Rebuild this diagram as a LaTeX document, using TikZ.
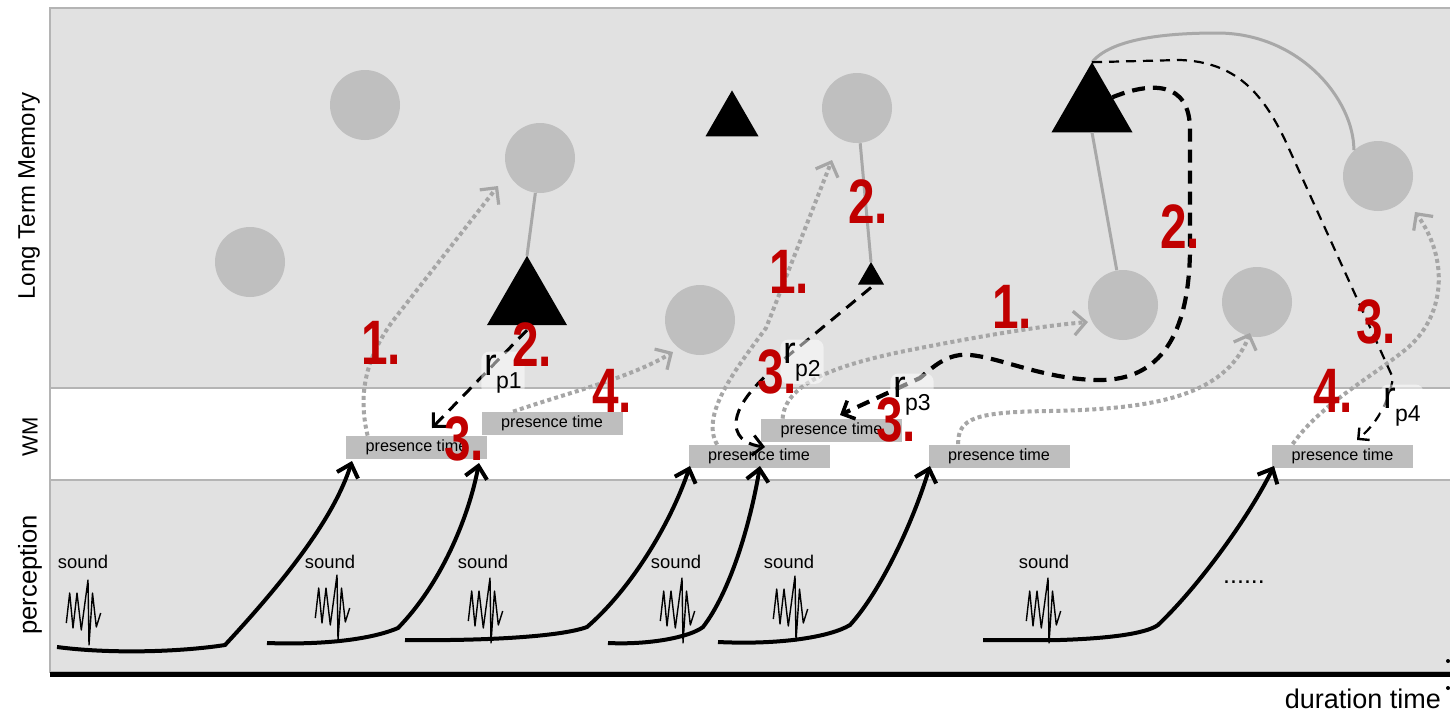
\documentclass[tikz,border=0pt]{standalone}
\usepackage{fontspec}
\usepackage{graphicx}
\setmainfont{Liberation Sans}
\usetikzlibrary{arrows.meta,shapes.geometric}
\definecolor{bgdot}{HTML}{E1E1E1}
\definecolor{circ}{HTML}{BFBFBF}
\definecolor{ptbox}{HTML}{BEBEBE}
\definecolor{lnk}{HTML}{A8A8A8}
\definecolor{dotg}{HTML}{A6A6A6}
\definecolor{rednum}{HTML}{C00000}
\definecolor{frameg}{HTML}{B4B4B4}
\newcommand\rnn[1]{\scalebox{0.76}[1]{#1}}
\newcommand\rsub[1]{r\kern-0.5pt\raisebox{-6.5pt}{\fontsize{11.5}{12}\selectfont #1}}
\begin{document}
\begin{tikzpicture}[x=0.5pt,y=-0.5pt,
  ltmc/.style={circle,fill=circ,inner sep=0,minimum size=35pt},
  tri/.style={regular polygon,regular polygon sides=3,fill=black,inner sep=0,outer sep=0},
  ptime/.style={fill=ptbox,minimum width=70.5pt,minimum height=11.5pt,inner sep=0,font=\fontsize{8.1}{8}\selectfont},
  rnum/.style={text=rednum,inner sep=0,font=\fontsize{31.4}{32}\selectfont\bfseries},
  rlab/.style={fill=white,fill opacity=0.5,text opacity=1,inner sep=1.5pt,rounded corners=4pt,anchor=base west,font=\fontsize{19}{19}\selectfont},
  snd/.style={font=\fontsize{9.2}{10}\selectfont},
  perc/.style={line width=2pt,-{Straight Barb[length=6pt,width=11pt,line width=2pt]}},
  grayarr/.style={dotg,line width=2pt,dash pattern=on 2pt off 1.6pt,-{Straight Barb[length=6pt,width=12pt,line width=1.6pt]}},
  link/.style={lnk,line width=1.5pt},
  retr/.style={line width=1.5pt,dash pattern=on 6pt off 4pt,-{Straight Barb[length=5pt,width=10pt,line width=1.5pt]}},
  retrthick/.style={line width=2.1pt,dash pattern=on 6.5pt off 4pt,-{Straight Barb[length=5pt,width=10pt,line width=1.8pt]}},
  retrthin/.style={line width=1.1pt,dash pattern=on 5pt off 3.5pt,-{Straight Barb[length=4pt,width=8pt,line width=1.2pt]}},
  wavepic/.pic={
    \draw[line width=0.7pt,line join=round] (-21.7,-22) -- (-18.3,-52) -- (-15,-17) -- (-11,-52) -- (-6.7,-15) -- (0,-65) -- (1,0) -- (4.5,-52) -- (8.3,-18) -- (12.7,-32);
  }]
\useasboundingbox (0,0) rectangle (1450,718);
\fill[white] (0,0) rectangle (1450,718);
% panels
\fill[bgdot] (50,8) rectangle (1460,388);
\fill[bgdot] (50,480) rectangle (1460,672);
\draw[frameg,line width=0.7pt] (50,8) rectangle (1460,388);
\draw[frameg,line width=0.8pt] (50,388) rectangle (1460,480);
\draw[frameg,line width=0.7pt] (50,480) rectangle (1460,672);
\draw[line width=2.5pt] (50,674.5) -- (1450,674.5);
\fill (1448,661) circle (2);
\fill (1448,688) circle (2);
% side labels
\node[rotate=90,font=\fontsize{12}{12}\selectfont] (ltm) at (29,196) {Long Term Memory};
\node[rotate=90,font=\fontsize{11}{11}\selectfont] (wm) at (30,437) {WM};
\node[rotate=90,font=\fontsize{12.8}{13}\selectfont] (per) at (30,575) {perception};
\node[anchor=base east,font=\fontsize{13.5}{14}\selectfont] (dur) at (1448,708) {duration time};
% LTM nodes
\node[ltmc] (c1) at (365,105) {};
\node[ltmc] (c2) at (540,158) {};
\node[ltmc] (c3) at (250,262) {};
\node[ltmc] (c4) at (700,320) {};
\node[ltmc] (c5) at (857,108) {};
\node[ltmc] (c6) at (1123,305) {};
\node[ltmc] (c7) at (1257,302) {};
\node[ltmc] (c8) at (1378,176) {};
\node[tri,minimum size=46.2pt] (t1) at (527,302) {};
\node[tri,minimum size=30.6pt] (t2) at (732,121) {};
\node[tri,minimum size=15pt] (t3) at (871,277) {};
\node[tri,minimum size=46.8pt] (t4) at (1092,109) {};
% links
\draw[link] (c2) -- (t1.north);
\draw[link] (c5) -- (t3.north);
\draw[link] (t4.south) -- (c6);
\draw[link] (t4.north) .. controls (1110,40) and (1160,33) .. (1217,33) .. controls (1300,33) and (1354,100) .. (c8.133);
% presence time boxes
\node[ptime] (p1) at (416.5,447.5) {presence time};
\node[ptime] (p2) at (552,423.5) {presence time};
\node[ptime] (p3) at (759,456.5) {presence time};
\node[ptime] (p4) at (831.5,430.5) {presence time};
\node[ptime] (p5) at (999,456) {presence time};
\node[ptime] (p6) at (1342.5,456) {presence time};
% sounds
\foreach \i/\cx/\by/\lx in {1/88/645/83, 2/337/640/330, 3/490/643/483, 4/682/643/676, 5/795/641/789, 6/1048/643/1044}{
  \node[snd] (snd\i) at (\lx,562) {sound};
  \pic at (\cx,\by) {wavepic};
}
\node[font=\fontsize{12.5}{13}\selectfont,anchor=base] (dots) at (1244,583) {......};
% perception curves
\coordinate (s1) at (57,647);  \coordinate (e1) at (352,461);
\coordinate (s2) at (267,643); \coordinate (e2) at (479,463);
\coordinate (s3) at (405,640); \coordinate (e3) at (690,466);
\coordinate (s4) at (608,643); \coordinate (e4) at (760,466);
\coordinate (s5) at (718,642); \coordinate (e5) at (930,466);
\coordinate (s6) at (983,640); \coordinate (e6) at (1274,466);
\draw[perc] (s1) .. controls (110,654) and (180,652) .. (225,645) .. controls (290,575) and (335,515) .. (e1);
\draw[perc] (s2) .. controls (320,645) and (370,640) .. (398,628) .. controls (440,585) and (468,520) .. (e2);
\draw[perc] (s3) .. controls (480,641) and (560,637) .. (587,627) .. controls (630,590) and (670,525) .. (e3);
\draw[perc] (s4) .. controls (650,645) and (690,637) .. (703,627) .. controls (730,592) and (750,525) .. (e4);
\draw[perc] (s5) .. controls (780,645) and (830,637) .. (850,625) .. controls (880,592) and (912,525) .. (e5);
\draw[perc] (s6) -- (1060,640) .. controls (1120,638) and (1148,632) .. (1158,625) .. controls (1200,585) and (1250,515) .. (e6);
% gray dotted associations
\coordinate (g1) at (498,186);
\coordinate (g2) at (673,352);
\coordinate (g3) at (832,160);
\coordinate (g4) at (1088,322);
\coordinate (g5) at (1250,333);
\coordinate (g6) at (1415,212);
\draw[grayarr] ([xshift=11pt]p1.north west) .. controls (358,395) and (365,360) .. (392,322) -- (g1);
\draw[grayarr] ([xshift=16pt]p2.north west) .. controls (570,392) and (630,378) .. (g2);
\draw[grayarr] ([xshift=14.5pt]p3.north west) .. controls (700,415) and (735,370) .. (766,328) -- (g3);
\draw[grayarr] ([xshift=11pt]p4.north west) .. controls (785,385) and (830,367) .. (900,352) .. controls (980,336) and (1040,326) .. (g4);
\draw[grayarr] ([xshift=15pt]p5.north west) .. controls (958,418) and (975,412) .. (1050,411) .. controls (1150,409) and (1225,398) .. (g5);
\draw[grayarr] ([xshift=10.5pt]p6.north west) .. controls (1320,405) and (1370,378) .. (1405,350) .. controls (1445,318) and (1450,260) .. (g6);
% retrieval dashed arrows
\coordinate (d1) at (432,428);
\coordinate (d2) at (765,447);
\coordinate (d3) at (840,415);
\coordinate (d4) at (1357,440);
\draw[retr] ([yshift=-2.5pt]t1.south) -- (d1);
\draw[retr] ([yshift=-1.5pt]t3.south) -- (805,342) .. controls (770,370) and (735,400) .. (736,425) .. controls (737,440) and (750,445) .. (d2);
\draw[retrthick] (t4.30) .. controls (1150,82) and (1190,80) .. (1190,130) -- (1190,250) .. controls (1189,335) and (1160,380) .. (1100,380) .. controls (1040,380) and (990,352) .. (960,355) .. controls (945,357) and (935,365) .. (920,378) -- (d3);
\draw[retrthin] (t4.north) -- (1180,60) .. controls (1235,62) and (1262,92) .. (1285,140) -- (1393,378) .. controls (1388,405) and (1375,425) .. (d4);
% r labels
\node[rlab] (rp1) at (481,375) {\rsub{p1}};
\node[rlab] (rp2) at (780,363) {\rsub{p2}};
\node[rlab] (rp3) at (890,397) {\rsub{p3}};
\node[rlab] (rp4) at (1380,408) {\rsub{p4}};
% red numbers
\node[rnum] (n1) at (381,343) {\rnn{1.}};
\node[rnum] (n2) at (532,345) {\rnn{2.}};
\node[rnum] (n3) at (464,439) {\rnn{3.}};
\node[rnum] (n4) at (612,391) {\rnn{4.}};
\node[rnum] (n5) at (789,272) {\rnn{1.}};
\node[rnum] (n6) at (868,202) {\rnn{2.}};
\node[rnum] (n7) at (777,372) {\rnn{3.}};
\node[rnum] (n8) at (896,420) {\rnn{3.}};
\node[rnum] (n9) at (1012,307) {\rnn{1.}};
\node[rnum] (n10) at (1180,227) {\rnn{2.}};
\node[rnum] (n11) at (1376,322) {\rnn{3.}};
\node[rnum] (n12) at (1333,391) {\rnn{4.}};
\end{tikzpicture}
\end{document}
